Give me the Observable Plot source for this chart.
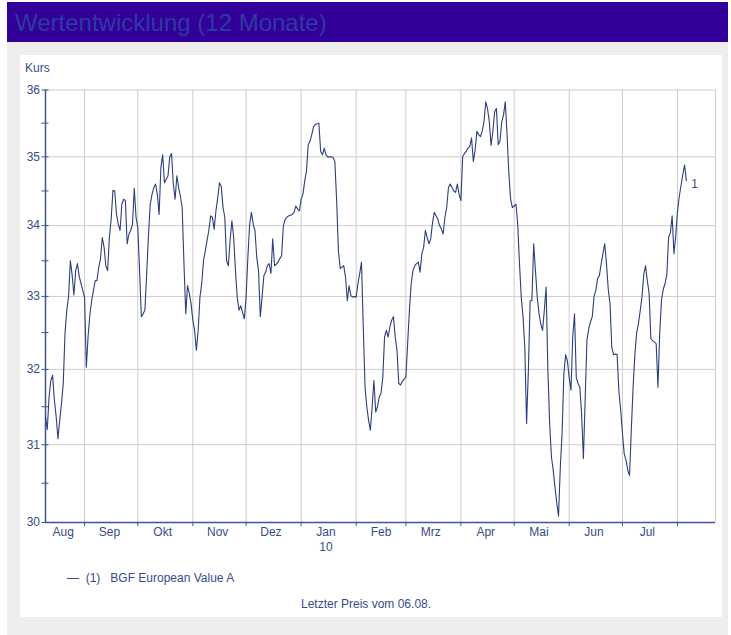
<!DOCTYPE html>
<html>
<head>
<meta charset="utf-8">
<script src="https://cdn.jsdelivr.net/npm/d3@7"></script>
<script src="https://cdn.jsdelivr.net/npm/@observablehq/plot@0.6"></script>
<style>
html, body { margin: 0; padding: 0; background: #ffffff; }
body { width: 731px; height: 635px; position: relative; overflow: hidden; font-family: 'Liberation Sans', Arial, sans-serif; }
#bar { position: absolute; left: 7px; top: 2px; width: 721px; height: 40px; background: #330099; }
#title { position: absolute; left: 15px; top: 11px; font-size: 24px; line-height: 24px; color: #2d3a9f; white-space: nowrap; }
#bg { position: absolute; left: 7px; top: 42px; width: 721px; height: 593px; background: #eeeeee; }
#panel { position: absolute; left: 20px; top: 55px; width: 702px; height: 562px; background: #ffffff; }
#chart { position: absolute; left: 20px; top: 55px; }
.lbl { position: absolute; font-size: 12px; line-height: 14px; color: #3a4a8c; white-space: pre; }
</style>
</head>
<body>
<div id="bar"></div>
<div id="title">Wertentwicklung (12 Monate)</div>
<div id="bg"></div>
<div id="panel"></div>
<div id="chart"></div>
<div class="lbl" id="kurs" style="left:25px;top:61px;">Kurs</div>
<div class="lbl" id="legend" style="left:67px;top:571px;">—  (1)   BGF European Value A</div>
<div class="lbl" id="caption" style="left:301px;top:597px;">Letzter Preis vom 06.08.</div>
<script>
const dates = [
"2009-08-10","2009-08-11","2009-08-12","2009-08-13","2009-08-14","2009-08-15","2009-08-16","2009-08-17","2009-08-18","2009-08-19","2009-08-20","2009-08-21","2009-08-22","2009-08-23","2009-08-24","2009-08-25","2009-08-26","2009-08-27","2009-08-28","2009-08-29","2009-08-30","2009-08-31",
"2009-09-01","2009-09-02","2009-09-03","2009-09-04","2009-09-05","2009-09-06","2009-09-07","2009-09-08","2009-09-09","2009-09-10","2009-09-11","2009-09-12","2009-09-13","2009-09-14","2009-09-15","2009-09-16","2009-09-17","2009-09-18","2009-09-19","2009-09-20","2009-09-21","2009-09-22","2009-09-23","2009-09-24","2009-09-25","2009-09-26","2009-09-27","2009-09-28","2009-09-29","2009-09-30",
"2009-10-01","2009-10-02","2009-10-03","2009-10-04","2009-10-05","2009-10-06","2009-10-07","2009-10-08","2009-10-09","2009-10-10","2009-10-11","2009-10-12","2009-10-13","2009-10-14","2009-10-15","2009-10-16","2009-10-17","2009-10-18","2009-10-19","2009-10-20","2009-10-21","2009-10-22","2009-10-23","2009-10-24","2009-10-25","2009-10-26","2009-10-27","2009-10-28","2009-10-29","2009-10-30","2009-10-31",
"2009-11-01","2009-11-02","2009-11-03","2009-11-04","2009-11-05","2009-11-06","2009-11-07","2009-11-08","2009-11-09","2009-11-10","2009-11-11","2009-11-12","2009-11-13","2009-11-14","2009-11-15","2009-11-16","2009-11-17","2009-11-18","2009-11-19","2009-11-20","2009-11-21","2009-11-22","2009-11-23","2009-11-24","2009-11-25","2009-11-26","2009-11-27","2009-11-28","2009-11-29","2009-11-30",
"2009-12-01","2009-12-02","2009-12-03","2009-12-04","2009-12-05","2009-12-06","2009-12-07","2009-12-08","2009-12-09","2009-12-10","2009-12-11","2009-12-12","2009-12-13","2009-12-14","2009-12-15","2009-12-16","2009-12-17","2009-12-18","2009-12-19","2009-12-20","2009-12-21","2009-12-22","2009-12-23","2009-12-24","2009-12-25","2009-12-26","2009-12-27","2009-12-28","2009-12-29","2009-12-30","2009-12-31",
"2010-01-01","2010-01-02","2010-01-03","2010-01-04","2010-01-05","2010-01-06","2010-01-07","2010-01-08","2010-01-09","2010-01-10","2010-01-11","2010-01-12","2010-01-13","2010-01-14","2010-01-15","2010-01-16","2010-01-17","2010-01-18","2010-01-19","2010-01-20","2010-01-21","2010-01-22","2010-01-23","2010-01-24","2010-01-25","2010-01-26","2010-01-27","2010-01-28","2010-01-29","2010-01-30","2010-01-31",
"2010-02-01","2010-02-02","2010-02-03","2010-02-04","2010-02-05","2010-02-06","2010-02-07","2010-02-08","2010-02-09","2010-02-10","2010-02-11","2010-02-12","2010-02-13","2010-02-14","2010-02-15","2010-02-16","2010-02-17","2010-02-18","2010-02-19","2010-02-20","2010-02-21","2010-02-22","2010-02-23","2010-02-24","2010-02-25","2010-02-26","2010-02-27","2010-02-28",
"2010-03-01","2010-03-02","2010-03-03","2010-03-04","2010-03-05","2010-03-06","2010-03-07","2010-03-08","2010-03-09","2010-03-10","2010-03-11","2010-03-12","2010-03-13","2010-03-14","2010-03-15","2010-03-16","2010-03-17","2010-03-18","2010-03-19","2010-03-20","2010-03-21","2010-03-22","2010-03-23","2010-03-24","2010-03-25","2010-03-26","2010-03-27","2010-03-28","2010-03-29","2010-03-30","2010-03-31",
"2010-04-01","2010-04-02","2010-04-03","2010-04-04","2010-04-05","2010-04-06","2010-04-07","2010-04-08","2010-04-09","2010-04-10","2010-04-11","2010-04-12","2010-04-13","2010-04-14","2010-04-15","2010-04-16","2010-04-17","2010-04-18","2010-04-19","2010-04-20","2010-04-21","2010-04-22","2010-04-23","2010-04-24","2010-04-25","2010-04-26","2010-04-27","2010-04-28","2010-04-29","2010-04-30",
"2010-05-01","2010-05-02","2010-05-03","2010-05-04","2010-05-05","2010-05-06","2010-05-07","2010-05-08","2010-05-09","2010-05-10","2010-05-11","2010-05-12","2010-05-13","2010-05-14","2010-05-15","2010-05-16","2010-05-17","2010-05-18","2010-05-19","2010-05-20","2010-05-21","2010-05-22","2010-05-23","2010-05-24","2010-05-25","2010-05-26","2010-05-27","2010-05-28","2010-05-29","2010-05-30","2010-05-31",
"2010-06-01","2010-06-02","2010-06-03","2010-06-04","2010-06-05","2010-06-06","2010-06-07","2010-06-08","2010-06-09","2010-06-10","2010-06-11","2010-06-12","2010-06-13","2010-06-14","2010-06-15","2010-06-16","2010-06-17","2010-06-18","2010-06-19","2010-06-20","2010-06-21","2010-06-22","2010-06-23","2010-06-24","2010-06-25","2010-06-26","2010-06-27","2010-06-28","2010-06-29","2010-06-30",
"2010-07-01","2010-07-02","2010-07-03","2010-07-04","2010-07-05","2010-07-06","2010-07-07","2010-07-08","2010-07-09","2010-07-10","2010-07-11","2010-07-12","2010-07-13","2010-07-14","2010-07-15","2010-07-16","2010-07-17","2010-07-18","2010-07-19","2010-07-20","2010-07-21","2010-07-22","2010-07-23","2010-07-24","2010-07-25","2010-07-26","2010-07-27","2010-07-28","2010-07-29","2010-07-30","2010-07-31",
"2010-08-01","2010-08-02","2010-08-03","2010-08-04","2010-08-05","2010-08-06"
];
const prices = [
31.37,31.2,31.63,31.85,31.92,31.59,31.37,31.08,31.32,31.54,31.81,32.5,32.81,33.0,33.5,33.3,33.02,33.36,33.46,33.28,33.18,33.08,
32.99,32.03,32.45,32.75,32.94,33.08,33.22,33.22,33.41,33.53,33.83,33.69,33.43,33.36,33.83,34.1,34.51,34.5,34.16,34.02,33.93,34.31,34.38,34.36,33.74,33.88,33.93,34.02,34.54,34.12,
33.97,33.36,32.72,32.76,32.81,33.32,33.86,34.31,34.45,34.55,34.6,34.45,34.16,34.84,35.03,34.62,34.67,34.72,35.0,35.05,34.6,34.38,34.72,34.55,34.42,34.26,33.46,32.76,33.15,33.04,32.9,
32.67,32.53,32.26,32.53,32.99,33.18,33.5,33.64,33.79,33.93,34.14,34.12,33.95,34.21,34.4,34.62,34.57,34.26,34.12,33.5,33.43,33.79,34.07,33.83,33.36,32.99,32.81,32.87,32.78,32.69,
32.99,33.55,34.02,34.19,34.02,33.93,33.55,33.36,32.72,32.99,33.29,33.34,33.43,33.46,33.32,33.81,33.43,33.45,33.48,33.53,33.57,34.0,34.09,34.12,34.14,34.15,34.16,34.19,34.28,34.24,34.21,
34.38,34.45,34.64,34.79,35.18,35.23,35.33,35.45,35.48,35.49,35.5,35.08,35.03,35.13,35.03,35.0,35.0,35.0,34.99,34.93,34.36,33.64,33.39,33.41,33.43,33.27,32.94,33.15,33.01,32.99,33.0,
32.99,33.18,33.32,33.48,32.58,31.76,31.5,31.32,31.19,31.5,31.85,31.43,31.5,31.63,31.68,31.89,32.44,32.53,32.44,32.58,32.67,32.72,32.44,32.26,31.81,31.79,31.84,31.87,
31.89,32.35,32.81,33.18,33.36,33.43,33.46,33.48,33.34,33.6,33.69,33.93,33.83,33.74,33.81,34.04,34.19,34.14,34.09,34.0,33.95,33.88,34.12,34.26,34.55,34.6,34.55,34.5,34.48,34.6,34.45,
34.36,35.0,35.05,35.08,35.13,35.15,35.28,34.93,35.1,35.38,35.33,35.3,35.38,35.52,35.82,35.72,35.52,35.17,35.38,35.67,35.72,35.18,35.23,35.52,35.62,35.82,35.33,34.76,34.38,34.26,
34.28,34.31,34.02,33.46,32.99,32.72,32.3,31.28,31.98,32.94,32.94,33.74,33.36,32.99,32.76,32.62,32.53,32.81,33.13,31.98,31.28,30.84,30.67,30.45,30.25,30.08,30.71,31.15,31.94,32.2,32.11,
31.89,31.72,32.44,32.76,31.89,31.81,31.76,31.4,30.82,31.6,32.4,32.55,32.65,32.72,33.0,33.08,33.25,33.29,33.45,33.6,33.74,33.46,33.1,32.9,32.3,32.2,32.21,32.2,31.7,31.46,
31.15,30.88,30.8,30.67,30.6,31.2,31.76,32.2,32.5,32.62,32.8,32.99,33.3,33.43,33.22,33.05,32.42,32.39,32.37,32.35,31.76,32.5,32.95,33.1,33.18,33.3,33.83,33.9,34.14,33.6,33.85,
34.2,34.42,34.58,34.74,34.88,34.65
];
const seriesLabel = "1";
const xDomain = ["2009-08-10", "2010-08-22T10:00:00Z"];
const yDomain = [30, 36];
const monthStarts = ["2009-09-01","2009-10-01","2009-11-01","2009-12-01","2010-01-01","2010-02-01","2010-03-01","2010-04-01","2010-05-01","2010-06-01","2010-07-01","2010-08-01"];
const monthLabels = ["Aug","Sep","Okt","Nov","Dez","Jan\n10","Feb","Mrz","Apr","Mai","Jun","Jul"];
const monthLabelDates = ["2009-08-20","2009-09-15","2009-10-15","2009-11-15","2009-12-15","2010-01-15","2010-02-15","2010-03-15","2010-04-15","2010-05-15","2010-06-15","2010-07-15"];
const yLabels = [30, 31, 32, 33, 34, 35, 36];
const yGrid = [31, 32, 33, 34, 35, 36];
const yTicks = [30, 30.5, 31, 31.5, 32, 32.5, 33, 33.5, 34, 34.5, 35, 35.5, 36];

const data = dates.map((d, i) => ({date: new Date(d), price: prices[i]}));
const x0 = new Date(xDomain[0]), x1 = new Date(xDomain[1]);
const monthDates = monthStarts.map(d => new Date(d));
const labelData = monthLabels.map((t, i) => ({text: t, date: new Date(monthLabelDates[i])}));

const axisColor = "#3f5396", textColor = "#3a4a8c", gridColor = "#cccccc", lineColor = "#2c3f7e";

const chart = Plot.plot({
  width: 702,
  height: 500,
  marginLeft: 25,
  marginRight: 7,
  marginTop: 34.5,
  marginBottom: 33,
  style: {background: "transparent", fontFamily: "'Liberation Sans', Arial, sans-serif", fontSize: "12px", color: textColor, overflow: "visible"},
  x: {type: "utc", domain: [x0, x1], axis: null},
  y: {type: "log", domain: yDomain, axis: null},
  marks: [
    Plot.ruleY(yGrid, {y: d => d, stroke: gridColor, strokeWidth: 1}),
    Plot.ruleX(monthDates.concat([x1]), {x: d => d, stroke: gridColor, strokeWidth: 1}),
    Plot.ruleX([x0], {x: d => d, stroke: axisColor, strokeWidth: 1.5}),
    Plot.ruleY([yDomain[0]], {y: d => d, stroke: axisColor, strokeWidth: 1.5}),
    Plot.ruleY(yTicks, {y: d => d, x1: () => x0, x2: () => x0, insetLeft: -3.5, insetRight: -3.5, stroke: axisColor, strokeWidth: 1}),
    Plot.ruleX(monthDates, {x: d => d, y1: () => yDomain[0], y2: () => yDomain[0], insetBottom: -4, stroke: axisColor, strokeWidth: 1}),
    Plot.text(yLabels, {x: () => x0, y: d => d, text: d => String(d), dx: -5.5, textAnchor: "end", fill: textColor, fontSize: 12}),
    Plot.text(labelData, {x: "date", y: () => yDomain[0], text: "text", lineAnchor: "top", dy: 2, lineHeight: 1.3, textAnchor: "middle", fill: textColor, fontSize: 12}),
    Plot.line(data, {x: "date", y: "price", stroke: lineColor, strokeWidth: 1.1}),
    Plot.text([data[data.length - 1]], {x: "date", y: "price", text: () => seriesLabel, dx: 5, dy: 3, textAnchor: "start", fill: textColor, fontSize: 12})
  ]
});
document.getElementById("chart").appendChild(chart);
</script>
</body>
</html>
